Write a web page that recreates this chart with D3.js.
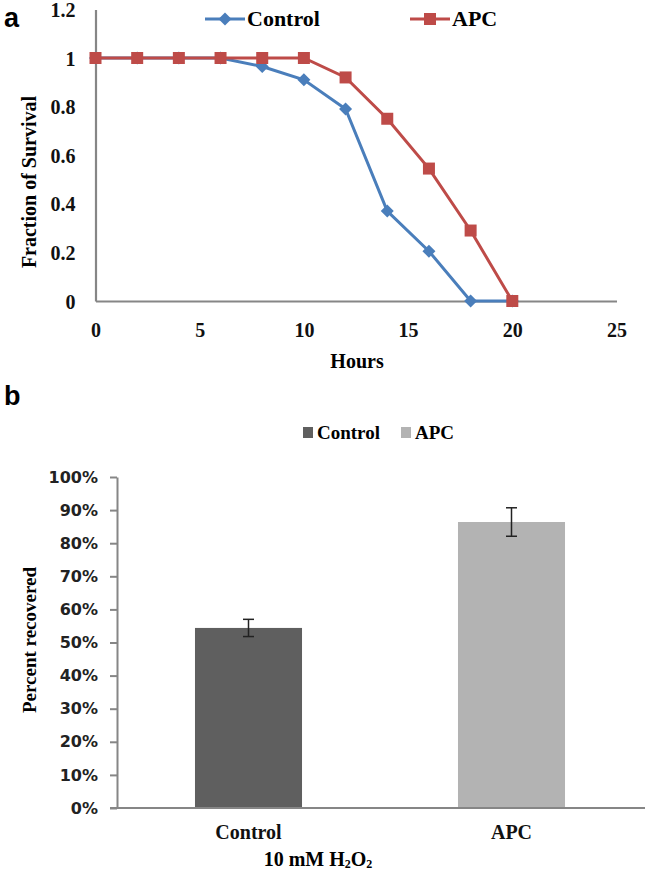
<!DOCTYPE html>
<html><head><meta charset="utf-8">
<script src="https://cdn.jsdelivr.net/npm/d3@7"></script>
<style>body{margin:0;background:#fff}svg{display:block}</style>
</head><body>
<svg id="c" width="645" height="874"></svg>
<script>
// Panel a data
const hours = [0, 2, 4, 6, 8, 10, 12, 14, 16, 18, 20];
const controlSurvival = [1, 1, 1, 1, 0.965, 0.91, 0.79, 0.37, 0.205, 0, 0];
const apcSurvival = [1, 1, 1, 1, 1, 1, 0.92, 0.75, 0.545, 0.29, 0];
const xTicksA = [0, 5, 10, 15, 20, 25];
const yTicksA = [0, 0.2, 0.4, 0.6, 0.8, 1, 1.2];
// Panel b data
const groups = ["Control", "APC"];
const recovered = [0.544, 0.864];
const recoveredErr = [0.026, 0.043];
const yTicksB = [0, 0.1, 0.2, 0.3, 0.4, 0.5, 0.6, 0.7, 0.8, 0.9, 1.0];

const svg = d3.select("#c");
const serif = "'Liberation Serif','Times New Roman',serif";
const sans = "'DejaVu Sans',Verdana,sans-serif";
const axisCol = "#868686";
const blue = "#4A7EBB", red = "#BE4B48";

// ---------- Panel a ----------
const xA = d3.scaleLinear().domain([0, 25]).range([95.5, 616.5]);
const yA = d3.scaleLinear().domain([0, 1.2]).range([301, 9.4]);
const gA = svg.append("g");

gA.append("text").attr("x", 4).attr("y", 27).text("a")
  .attr("font-family", "'Liberation Sans',Arial,sans-serif").attr("font-weight", "bold").attr("font-size", 27);

const axA = gA.append("g").attr("transform", `translate(0,${yA(0)})`)
  .call(d3.axisBottom(xA).tickValues(xTicksA).tickSize(0).tickPadding(22).tickFormat(d3.format("d")));
const ayA = gA.append("g").attr("transform", `translate(${xA(0)},0)`)
  .call(d3.axisLeft(yA).tickValues(yTicksA).tickSize(0).tickPadding(20).tickFormat(d => d === 0 || d === 1 ? d : d3.format(".1f")(d)));
[axA, ayA].forEach(a => {
  a.select(".domain").attr("stroke", axisCol).attr("stroke-width", 2.2);
  a.selectAll("text").attr("font-family", serif).attr("font-weight", "bold").attr("font-size", 20).attr("fill", "#111");
});
ayA.selectAll("text").attr("dy", "0.35em");
axA.selectAll("text").attr("dy", "0.71em");

gA.append("text").attr("x", 357).attr("y", 368).attr("text-anchor", "middle").text("Hours")
  .attr("font-family", serif).attr("font-weight", "bold").attr("font-size", 20);
gA.append("text").attr("transform", `translate(36,182) rotate(-90)`).attr("text-anchor", "middle").text("Fraction of Survival")
  .attr("font-family", serif).attr("font-weight", "bold").attr("font-size", 20);

const seriesA = [
  {name: "Control", vals: controlSurvival, col: blue, shape: "diamond"},
  {name: "APC", vals: apcSurvival, col: red, shape: "square"}
];
const line = d3.line().x(d => xA(d[0])).y(d => yA(d[1]));
function marker(g, shape, col, x, y) {
  if (shape === "square") {
    g.append("rect").attr("x", x - 6).attr("y", y - 6).attr("width", 12).attr("height", 12).attr("fill", col);
  } else {
    g.append("path").attr("d", `M${x},${y - 6.5}L${x + 6.5},${y}L${x},${y + 6.5}L${x - 6.5},${y}Z`).attr("fill", col);
  }
}
seriesA.forEach(s => {
  const pts = hours.map((h, i) => [h, s.vals[i]]);
  gA.append("path").datum(pts).attr("d", line).attr("fill", "none").attr("stroke", s.col).attr("stroke-width", 3);
  pts.forEach(p => marker(gA, s.shape, s.col, xA(p[0]), yA(p[1])));
});
// legend a
const legA = [{s: seriesA[0], x: 205}, {s: seriesA[1], x: 410}];
legA.forEach(l => {
  gA.append("line").attr("x1", l.x).attr("x2", l.x + 40).attr("y1", 19).attr("y2", 19).attr("stroke", l.s.col).attr("stroke-width", 3);
  marker(gA, l.s.shape, l.s.col, l.x + 20, 19);
  gA.append("text").attr("x", l.x + 42).attr("y", 26).text(l.s.name)
    .attr("font-family", serif).attr("font-weight", "bold").attr("font-size", 22);
});

// ---------- Panel b ----------
const xB = d3.scaleBand().domain(groups).range([117, 643]).paddingInner(0.593).paddingOuter(0.2965);
const yB = d3.scaleLinear().domain([0, 1]).range([808, 477]);
const gB = svg.append("g");
const barCols = ["#5F5F5F", "#B3B3B3"];

gB.append("text").attr("x", 4).attr("y", 405).text("b")
  .attr("font-family", "'Liberation Sans',Arial,sans-serif").attr("font-weight", "bold").attr("font-size", 27);

gB.selectAll("rect.bar").data(groups).join("rect").attr("class", "bar")
  .attr("x", d => xB(d)).attr("width", xB.bandwidth())
  .attr("y", (d, i) => yB(recovered[i])).attr("height", (d, i) => yB(0) - yB(recovered[i]))
  .attr("fill", (d, i) => barCols[i]);

groups.forEach((g, i) => {
  const cx = xB(g) + xB.bandwidth() / 2;
  const y1 = yB(recovered[i] + recoveredErr[i]), y2 = yB(recovered[i] - recoveredErr[i]);
  gB.append("line").attr("x1", cx).attr("x2", cx).attr("y1", y1).attr("y2", y2).attr("stroke", "#222").attr("stroke-width", 1.5);
  [y1, y2].forEach(y => gB.append("line").attr("x1", cx - 5.5).attr("x2", cx + 5.5).attr("y1", y).attr("y2", y).attr("stroke", "#222").attr("stroke-width", 1.5));
});

const ayB = gB.append("g").attr("transform", `translate(117,0)`)
  .call(d3.axisLeft(yB).tickValues(yTicksB).tickSize(7).tickSizeOuter(0).tickPadding(12).tickFormat(d3.format(".0%")));
ayB.select(".domain").attr("stroke", axisCol).attr("stroke-width", 2);
ayB.selectAll(".tick line").attr("stroke", axisCol).attr("stroke-width", 2);
ayB.selectAll("text").attr("font-family", sans).attr("font-weight", "bold").attr("font-size", 16).attr("fill", "#222");

const axB = gB.append("g").attr("transform", `translate(0,808)`)
  .call(d3.axisBottom(xB).tickSize(0).tickPadding(17));
axB.select(".domain").attr("stroke", axisCol).attr("stroke-width", 2.2).attr("d", "M110,0H645");
axB.selectAll("text").attr("font-family", serif).attr("font-weight", "bold").attr("font-size", 20).attr("fill", "#111");

gB.append("text").attr("transform", `translate(36,640) rotate(-90)`).attr("text-anchor", "middle").text("Percent recovered")
  .attr("font-family", serif).attr("font-weight", "bold").attr("font-size", 19);

const xt = gB.append("text").attr("x", 318).attr("y", 866).attr("text-anchor", "middle")
  .attr("font-family", serif).attr("font-weight", "bold").attr("font-size", 20);
xt.append("tspan").text("10 mM H");
xt.append("tspan").text("2").attr("font-size", 12).attr("dy", 2);
xt.append("tspan").text("O").attr("dy", -2);
xt.append("tspan").text("2").attr("font-size", 12).attr("dy", 2);

// legend b
const legB = [{x: 303}, {x: 401}];
groups.forEach((g, i) => {
  gB.append("rect").attr("x", legB[i].x).attr("y", 427).attr("width", 10).attr("height", 11).attr("fill", barCols[i]);
  gB.append("text").attr("x", legB[i].x + 14).attr("y", 439).text(g)
    .attr("font-family", serif).attr("font-weight", "bold").attr("font-size", 19);
});
</script>
</body></html>
